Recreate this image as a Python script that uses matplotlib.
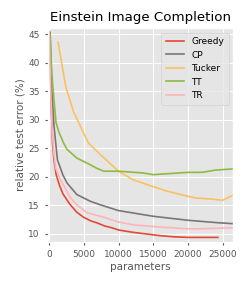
import matplotlib
matplotlib.use("Agg")
import matplotlib.pyplot as plt

plt.style.use("ggplot")

# --- data
greedy_x = [100, 300, 500, 700, 1000, 1500, 2000, 3000, 4000, 5000, 6000, 7000,
            8000, 9000, 10000, 12000, 14000, 16000, 18000, 20000, 22000, 24300]
greedy_y = [45.3, 33.0, 26.0, 23.0, 20.5, 18.5, 17.0, 15.2, 13.8, 12.9, 12.3, 11.9,
            11.4, 11.1, 10.7, 10.3, 10.0, 9.7, 9.5, 9.4, 9.4, 9.4]

cp_x = [150, 400, 700, 1200, 2000, 2600, 4000, 6000, 7400, 10000, 12000, 15000,
        20000, 24000, 26500]
cp_y = [45.3, 35.0, 29.0, 23.0, 20.3, 18.9, 16.9, 15.7, 15.1, 14.1, 13.7, 13.1,
        12.4, 12.0, 11.8]

tucker_x = [1300, 2400, 3500, 5000, 5700, 7400, 10000, 12100, 15000, 17000,
            20000, 21200, 23500, 25000, 26500]
tucker_y = [43.6, 35.8, 31.5, 27.6, 25.9, 23.9, 21.0, 19.5, 18.3, 17.5,
            16.6, 16.3, 16.1, 15.9, 16.8]

tt_x = [100, 400, 700, 1000, 1400, 2100, 2600, 4000, 5500, 6900, 7900, 10000,
        13500, 15000, 20000, 22000, 24000, 26500]
tt_y = [45.3, 38.0, 33.5, 29.5, 27.9, 25.9, 24.8, 23.3, 22.4, 21.5, 21.0, 21.0,
        20.7, 20.4, 20.8, 20.8, 21.2, 21.4]

tr_x = [0, 200, 450, 700, 950, 1900, 3100, 4000, 5500, 7400, 10000, 12100,
        15000, 20000, 21700, 26500]
tr_y = [45.5, 36.0, 28.0, 24.0, 21.5, 18.9, 16.3, 15.1, 13.7, 13.1, 12.1, 11.6,
        11.3, 10.9, 10.9, 11.1]

fig = plt.figure(figsize=(2.49, 2.86), dpi=100)
ax = fig.add_axes([0.193, 0.154, 0.743, 0.748])

ax.plot(greedy_x, greedy_y, color="#E24A33", lw=1.2, label="Greedy")
ax.plot(cp_x, cp_y, color="#777777", lw=1.2, label="CP")
ax.plot(tucker_x, tucker_y, color="#FBC15E", lw=1.2, label="Tucker")
ax.plot(tt_x, tt_y, color="#8EBA42", lw=1.2, label="TT")
ax.plot(tr_x, tr_y, color="#FFB5B8", lw=1.2, label="TR")

ax.set_xlim(-150, 26500)
ax.set_ylim(8.6, 46.1)
ax.set_xticks([0, 5000, 10000, 15000, 20000, 25000])
ax.set_yticks([10, 15, 20, 25, 30, 35, 40, 45])
ax.tick_params(labelsize=6.5, length=2.5)
ax.set_xlabel("parameters", fontsize=7.5, labelpad=2)
ax.set_ylabel("relative test error (%)", fontsize=7.5, labelpad=2)
ax.set_title("Einstein Image Completion", fontsize=9.6, color="black", pad=5)

ax.legend(loc="upper right", fontsize=6.5, handlelength=2.0, borderpad=0.5,
          labelspacing=0.5)

fig.savefig("out.png", dpi=100)
